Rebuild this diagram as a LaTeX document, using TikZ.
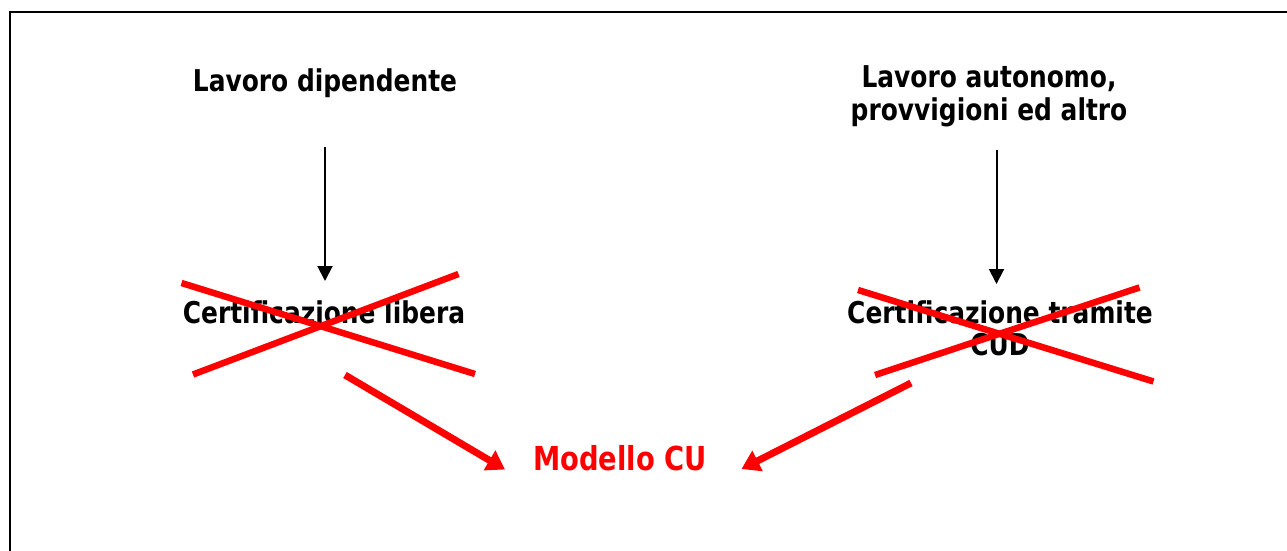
\documentclass[tikz,border=0pt]{standalone}
\usepackage{fontspec}
\setmainfont{DejaVu Sans}[FakeStretch=0.83]
\usetikzlibrary{arrows.meta}
\begin{document}
\begin{tikzpicture}[x=1pt,y=-1pt,
  lbl/.style={font=\bfseries\fontsize{30}{32.5}\selectfont, inner sep=0pt, align=center, anchor=base},
  blk/.style={line width=2pt, -{Triangle[length=15pt,width=15pt]}},
  cross/.style={draw=red, line width=6.5pt},
  redarr/.style={draw=red, line width=7pt, -{Triangle[length=18pt,width=22pt,fill=red]}}]
\clip (0,0) rectangle (1287,551);
\fill[white] (0,0) rectangle (1287,551);
\draw[line width=2pt] (9.5,12.5) rectangle (1300,570);
% texts
\node[lbl] (dip) at (325,91) {Lavoro dipendente};
\node[lbl] (aut) at (989,120.5) {Lavoro autonomo,\\provvigioni ed altro};
\node[lbl] (lib) at (324,323) {Certificazione libera};
\node[lbl] (tra) at (1000,355.5) {Certificazione tramite\\CUD};
\node[lbl, text=red, font=\bfseries\fontsize{33}{36}\selectfont] (cu) at (620,470) {Modello CU};
% black arrows
\coordinate (d1) at (325,147);
\coordinate (d2) at (325,281);
\coordinate (a1) at (996.5,150);
\coordinate (a2) at (996.5,284);
\draw[blk] (d1) -- (d2);
\draw[blk] (a1) -- (a2);
% crosses
\coordinate (x1a) at (181.5,283); \coordinate (x1b) at (475,374);
\coordinate (x1c) at (193,374.5); \coordinate (x1d) at (458.5,274);
\draw[cross] (x1a) -- (x1b);
\draw[cross] (x1c) -- (x1d);
\coordinate (x2a) at (858,290); \coordinate (x2b) at (1153.5,381.5);
\coordinate (x2c) at (875,375); \coordinate (x2d) at (1139.5,287.5);
\draw[cross] (x2a) -- (x2b);
\draw[cross] (x2c) -- (x2d);
% red arrows
\coordinate (r1) at (345,375);
\coordinate (r2) at (911,383);
\draw[redarr] (r1) -- (505,469.5) coordinate (r1e);
\draw[redarr] (r2) -- (741.5,469) coordinate (r2e);
\end{tikzpicture}
\end{document}
